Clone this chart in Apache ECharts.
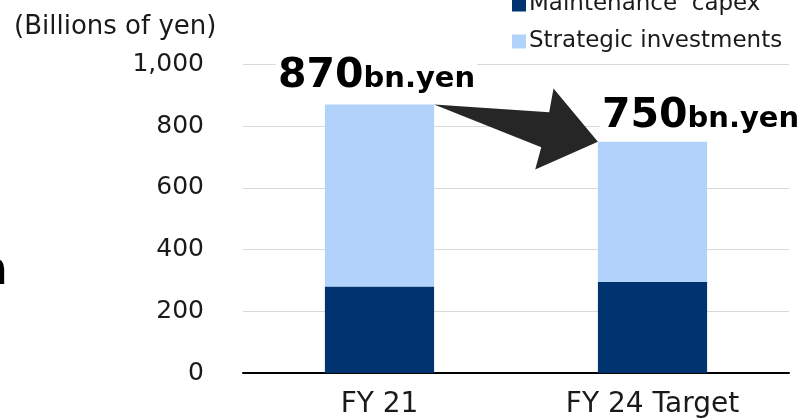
<!DOCTYPE html>
<html lang="en">
<head>
    <meta charset="UTF-8">
    <title>Capex FY21 vs FY24</title>
    <script src="https://cdn.jsdelivr.net/npm/echarts@6/dist/echarts.min.js"></script>
    <style>
        html, body { margin: 0; padding: 0; background: #fff; }
        #main { width: 802px; height: 419px; }
    </style>
</head>
<body>
<div id="main"></div>
<script type="text/javascript">
    // chart data
    var categories = ['FY 21', 'FY 24 Target'];
    var maintenance = [280, 295];
    var strategic = [590, 455];
    var totals = [870, 750];
    var yTicks = [0, 200, 400, 600, 800, 1000];

    var FONT = '"DejaVu Sans", Verdana, sans-serif';
    var myChart = echarts.init(document.getElementById('main'));

    // total label above the stack, second one sits a bit to the right
    var labelOffsets = [[-3, 0], [48, 3]];
    var strategicData = [];
    for (var i = 0; i < strategic.length; i++) {
        strategicData.push({
            value: strategic[i],
            label: {offset: labelOffsets[i]}
        });
    }

    var option = {
        animation: false,
        textStyle: {fontFamily: FONT},
        title: {
            text: '(Billions of yen)',
            left: 9,
            top: 9,
            textStyle: {fontFamily: FONT, fontSize: 26, fontWeight: 'normal', color: '#1a1a1a'}
        },
        legend: {
            orient: 'vertical',
            left: 507,
            top: -12,
            itemWidth: 14,
            itemHeight: 14,
            itemGap: 14,
            icon: 'rect',
            textStyle: {fontFamily: FONT, fontSize: 23, color: '#1a1a1a', padding: [0, 0, 0, -2]},
            data: ['Maintenance  capex', 'Strategic investments']
        },
        grid: {left: 243, right: 13, top: 64.5, bottom: 44.5, containLabel: false},
        xAxis: {
            type: 'category',
            data: categories,
            axisLine: {lineStyle: {color: '#000', width: 2}},
            axisTick: {show: false},
            axisLabel: {fontFamily: FONT, fontSize: 28, color: '#1a1a1a', margin: 18}
        },
        yAxis: {
            type: 'value',
            min: yTicks[0],
            max: yTicks[yTicks.length - 1],
            interval: 200,
            axisLine: {show: false},
            axisTick: {show: false},
            splitLine: {lineStyle: {color: '#d9d9d9', width: 1}},
            axisLabel: {
                fontFamily: FONT, fontSize: 25, color: '#1a1a1a', margin: 39,
                formatter: function (v) { return v.toLocaleString('en-US'); }
            }
        },
        series: [
            {
                name: 'Maintenance  capex',
                type: 'bar',
                stack: 'capex',
                barWidth: '40%',
                itemStyle: {color: '#003370'},
                data: maintenance
            },
            {
                name: 'Strategic investments',
                type: 'bar',
                stack: 'capex',
                barWidth: '40%',
                itemStyle: {color: '#b1d3fb'},
                label: {
                    show: true,
                    position: 'top',
                    distance: 8,
                    backgroundColor: '#fff',
                    padding: [0, 2],
                    formatter: function (p) {
                        return '{big|' + totals[p.dataIndex] + '}{small|bn.yen}';
                    },
                    rich: {
                        big: {fontFamily: FONT, fontSize: 41, fontWeight: 'bold', color: '#000'},
                        small: {fontFamily: FONT, fontSize: 29, fontWeight: 'bold', color: '#000', padding: [6, 0, 0, 0]}
                    }
                },
                data: strategicData
            }
        ]
    };

    myChart.setOption(option);

    // arrow from the top of FY21 stack to the top of FY24 stack
    function drawArrow() {
        var p0 = myChart.convertToPixel({xAxisIndex: 0, yAxisIndex: 0}, [0, totals[0]]);
        var p1 = myChart.convertToPixel({xAxisIndex: 0, yAxisIndex: 0}, [1, totals[1]]);
        var band = p1[0] - p0[0];
        var half = band * 0.4 / 2;
        var tx = p0[0] + half, ty = p0[1];
        var hx = p1[0] - half, hy = p1[1];
        var dx = hx - tx, dy = hy - ty;
        var len = Math.sqrt(dx * dx + dy * dy);
        var ux = dx / len, uy = dy / len;
        var nx = -uy, ny = ux;
        var base = len - 54;
        function pt(a, b) { return [tx + ux * a + nx * b, ty + uy * a + ny * b]; }
        var pts = [
            [tx, ty],
            pt(base, -18),
            pt(base - 1, -42),
            [hx, hy],
            pt(base - 1, 41),
            pt(base, 18)
        ];
        myChart.setOption({
            graphic: [
                {
                    type: 'polygon',
                    z: 100,
                    shape: {points: pts},
                    style: {fill: '#262626'}
                },
                {
                    type: 'text',
                    left: -25,
                    top: 249,
                    style: {text: 'n', fontFamily: FONT, fontSize: 46, fontWeight: 'bold', fill: '#000'}
                }
            ]
        });
    }
    drawArrow();
</script>
</body>
</html>
